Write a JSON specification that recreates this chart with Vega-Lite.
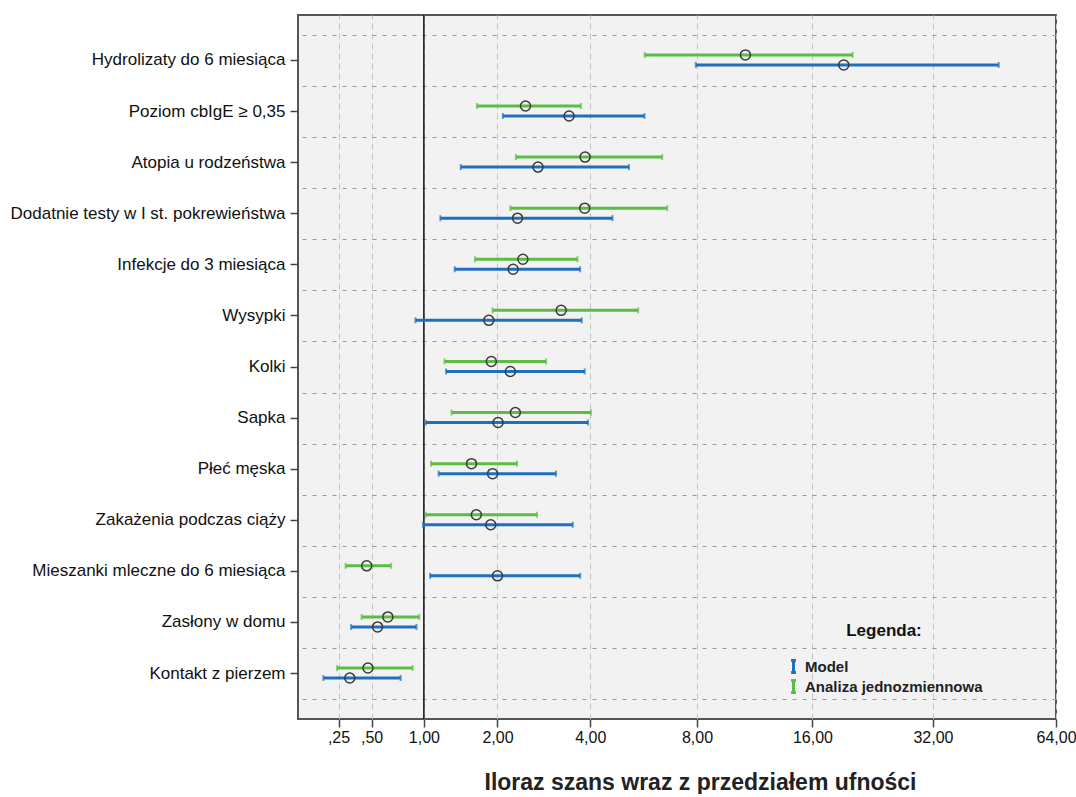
{
  "$schema": "https://vega.github.io/schema/vega-lite/v6.json",
  "width": 758,
  "height": 704,
  "padding": {"left": 10, "top": 14, "right": 3, "bottom": 0},
  "background": "white",
  "config": {
    "font": "Liberation Sans",
    "view": {"fill": "#f2f2f2", "stroke": "#555555", "strokeWidth": 2},
    "axis": {"domain": false, "tickColor": "#444444", "tickWidth": 1.5, "tickSize": 8, "labelColor": "#111111"}
  },
  "data": {
    "values": [
      {"label": "Hydrolizaty do 6 miesiąca", "series": "Analiza jednozmiennowa", "lo": 5.75, "est": 10.75, "hi": 20.2},
      {"label": "Hydrolizaty do 6 miesiąca", "series": "Model", "lo": 7.94, "est": 19.2, "hi": 46.4},
      {"label": "Poziom cbIgE ≥ 0,35", "series": "Analiza jednozmiennowa", "lo": 1.68, "est": 2.5, "hi": 3.75},
      {"label": "Poziom cbIgE ≥ 0,35", "series": "Model", "lo": 2.09, "est": 3.45, "hi": 5.74},
      {"label": "Atopia u rodzeństwa", "series": "Analiza jednozmiennowa", "lo": 2.32, "est": 3.86, "hi": 6.43},
      {"label": "Atopia u rodzeństwa", "series": "Model", "lo": 1.45, "est": 2.75, "hi": 5.19},
      {"label": "Dodatnie testy w I st. pokrewieństwa", "series": "Analiza jednozmiennowa", "lo": 2.22, "est": 3.85, "hi": 6.64},
      {"label": "Dodatnie testy w I st. pokrewieństwa", "series": "Model", "lo": 1.19, "est": 2.35, "hi": 4.65},
      {"label": "Infekcje do 3 miesiąca", "series": "Analiza jednozmiennowa", "lo": 1.65, "est": 2.45, "hi": 3.66},
      {"label": "Infekcje do 3 miesiąca", "series": "Model", "lo": 1.37, "est": 2.27, "hi": 3.73},
      {"label": "Wysypki", "series": "Analiza jednozmiennowa", "lo": 1.92, "est": 3.26, "hi": 5.51},
      {"label": "Wysypki", "series": "Model", "lo": 0.91, "est": 1.86, "hi": 3.77},
      {"label": "Kolki", "series": "Analiza jednozmiennowa", "lo": 1.24, "est": 1.9, "hi": 2.92},
      {"label": "Kolki", "series": "Model", "lo": 1.26, "est": 2.22, "hi": 3.85},
      {"label": "Sapka", "series": "Analiza jednozmiennowa", "lo": 1.33, "est": 2.31, "hi": 4.02},
      {"label": "Sapka", "series": "Model", "lo": 1.02, "est": 2.01, "hi": 3.94},
      {"label": "Płeć męska", "series": "Analiza jednozmiennowa", "lo": 1.08, "est": 1.6, "hi": 2.34},
      {"label": "Płeć męska", "series": "Model", "lo": 1.17, "est": 1.92, "hi": 3.14},
      {"label": "Zakażenia podczas ciąży", "series": "Analiza jednozmiennowa", "lo": 1.02, "est": 1.67, "hi": 2.73},
      {"label": "Zakażenia podczas ciąży", "series": "Model", "lo": 0.99, "est": 1.89, "hi": 3.54},
      {"label": "Mieszanki mleczne do 6 miesiąca", "series": "Analiza jednozmiennowa", "lo": 0.3, "est": 0.46, "hi": 0.67},
      {"label": "Mieszanki mleczne do 6 miesiąca", "series": "Model", "lo": 1.07, "est": 2.0, "hi": 3.73},
      {"label": "Zasłony w domu", "series": "Analiza jednozmiennowa", "lo": 0.42, "est": 0.64, "hi": 0.95},
      {"label": "Zasłony w domu", "series": "Model", "lo": 0.34, "est": 0.55, "hi": 0.92},
      {"label": "Kontakt z pierzem", "series": "Analiza jednozmiennowa", "lo": 0.24, "est": 0.47, "hi": 0.88},
      {"label": "Kontakt z pierzem", "series": "Model", "lo": 0.15, "est": 0.33, "hi": 0.76}
    ]
  },
  "layer": [
    {
      "data": {"values": [{"ref": 1}]},
      "mark": {"type": "rule", "color": "#111111", "strokeWidth": 1.5},
      "encoding": {
        "x": {"field": "ref", "type": "quantitative", "title": "Iloraz szans wraz z przedziałem ufności",
          "scale": {"type": "symlog", "constant": 1, "domain": [0, 64], "nice": false, "zero": false},
          "axis": {"values": [0.25, 0.5, 1, 2, 4, 8, 16, 32, 64],
            "labelExpr": "datum.value < 1 ? substring(replace(format(datum.value, '.2f'), '.', ','), 1) : replace(format(datum.value, '.2f'), '.', ',')",
            "grid": true, "gridDash": [6, 4], "gridColor": "#c4c4c4", "gridWidth": 1,
            "labelFontSize": 16, "labelPadding": 2, "labelFlush": false, "labelOverlap": false,
            "titleFontSize": 23, "titleFontWeight": "bold", "titleColor": "#222222",
            "titleX": 402, "titleY": 70, "titleBaseline": "alphabetic", "titleAlign": "center"}}
      }
    },
    {
      "mark": {"type": "rule", "strokeWidth": 3},
      "encoding": {
        "y": {"field": "label", "type": "nominal", "sort": null,
          "scale": {"paddingInner": 0, "paddingOuter": 0.389},
          "axis": {"title": null, "grid": false, "labelFontSize": 17, "labelPadding": 5, "labelLimit": 400}},
        "yOffset": {"field": "series", "type": "nominal",
          "scale": {"type": "point", "padding": 0, "domain": ["Analiza jednozmiennowa", "Model"], "range": [20, 30]}},
        "x": {"field": "lo", "type": "quantitative", "title": "Iloraz szans wraz z przedziałem ufności",
          "scale": {"type": "symlog", "constant": 1, "domain": [0, 64], "nice": false, "zero": false}},
        "x2": {"field": "hi"},
        "color": {"field": "series", "type": "nominal",
          "scale": {"domain": ["Model", "Analiza jednozmiennowa"], "range": ["#1f6fc1", "#5cbd45"]},
          "legend": {"title": "Legenda:", "orient": "none", "legendX": 488, "legendY": 608,
            "titleFontSize": 17, "titleFontWeight": "bold", "titleColor": "#111111", "titleAnchor": "middle", "titlePadding": 19,
            "labelFontSize": 15, "labelFontWeight": "bold", "labelColor": "#222222", "labelOffset": 4, "labelLimit": 300,
            "symbolType": "M-0.4,-1H0.4M0,-1V1M-0.4,1H0.4", "symbolSize": 144, "symbolStrokeWidth": 3, "rowPadding": -5}}
      }
    },
    {
      "mark": {"type": "tick", "thickness": 2, "size": 6},
      "encoding": {
        "y": {"field": "label", "type": "nominal", "sort": null, "axis": null},
        "yOffset": {"field": "series", "type": "nominal"},
        "x": {"field": "lo", "type": "quantitative", "title": "Iloraz szans wraz z przedziałem ufności",
          "scale": {"type": "symlog", "constant": 1, "domain": [0, 64], "nice": false, "zero": false}},
        "color": {"field": "series", "type": "nominal", "legend": null}
      }
    },
    {
      "mark": {"type": "tick", "thickness": 2, "size": 6},
      "encoding": {
        "y": {"field": "label", "type": "nominal", "sort": null, "axis": null},
        "yOffset": {"field": "series", "type": "nominal"},
        "x": {"field": "hi", "type": "quantitative", "title": "Iloraz szans wraz z przedziałem ufności",
          "scale": {"type": "symlog", "constant": 1, "domain": [0, 64], "nice": false, "zero": false}},
        "color": {"field": "series", "type": "nominal", "legend": null}
      }
    },
    {
      "mark": {"type": "point", "shape": "circle", "filled": false, "stroke": "#3a3a3a", "strokeWidth": 1.5, "size": 100, "opacity": 1},
      "encoding": {
        "y": {"field": "label", "type": "nominal", "sort": null,
          "axis": {"orient": "right", "title": null, "labels": false, "ticks": false, "domain": false,
            "grid": true, "tickBand": "extent", "gridDash": [4, 6], "gridColor": "#9a9a9a", "gridWidth": 1}},
        "yOffset": {"field": "series", "type": "nominal"},
        "x": {"field": "est", "type": "quantitative", "title": "Iloraz szans wraz z przedziałem ufności",
          "scale": {"type": "symlog", "constant": 1, "domain": [0, 64], "nice": false, "zero": false}}
      }
    }
  ],
  "resolve": {"axis": {"y": "independent"}}
}
